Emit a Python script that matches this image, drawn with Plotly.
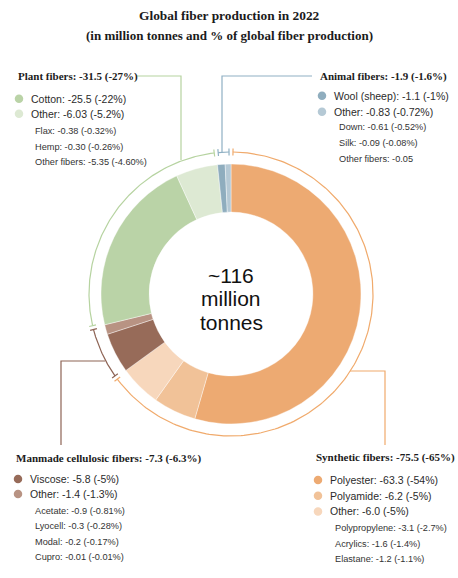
import numpy as np
import plotly.graph_objects as go

W, H = 458, 578

# ---------------- data ----------------
categories = ["Synthetic fibers", "Manmade cellulosic fibers", "Plant fibers", "Animal fibers"]
category_totals = ["-75.5", "-7.3", "-31.5", "-1.9"]
category_pcts = ["-65%", "-6.3%", "-27%", "-1.6%"]

slice_names = ["Polyester", "Polyamide", "Other", "Viscose", "Other", "Cotton", "Other",
               "Wool (sheep)", "Other"]
slice_values = [63.3, 6.2, 6.0, 5.8, 1.4, 25.5, 6.03, 1.1, 0.83]
slice_value_labels = ["-63.3", "-6.2", "-6.0", "-5.8", "-1.4", "-25.5", "-6.03", "-1.1", "-0.83"]
slice_pcts = ["-54%", "-5%", "-5%", "-5%", "-1.3%", "-22%", "-5.2%", "-1%", "-0.72%"]
slice_category = [0, 0, 0, 1, 1, 2, 2, 3, 3]

synthetic_sub = ["Polypropylene: -3.1 (-2.7%)", "Acrylics: -1.6 (-1.4%)", "Elastane: -1.2 (-1.1%)"]
cellulosic_sub = ["Acetate: -0.9 (-0.81%)", "Lyocell: -0.3 (-0.28%)", "Modal: -0.2 (-0.17%)",
                  "Cupro: -0.01 (-0.01%)"]
plant_sub = ["Flax: -0.38 (-0.32%)", "Hemp: -0.30 (-0.26%)", "Other fibers: -5.35 (-4.60%)"]
animal_sub = ["Down: -0.61 (-0.52%)", "Silk: -0.09 (-0.08%)", "Other fibers: -0.05"]
sub_items = [synthetic_sub, cellulosic_sub, plant_sub, animal_sub]

total_label = "~116"

# ---------------- styles ----------------
slice_colors = ["#EDAA72", "#F1C298", "#F7D7BC", "#976B59", "#B89383",
                "#BAD3A7", "#DDE9D3", "#8FADBE", "#B5C9D5"]
category_line_colors = ["#F0AA6C", "#8E6455", "#B6D3A0", "#8FB0C3"]

SERIF = "Liberation Serif"
SANS = "Liberation Sans"

cx, cy = 231, 294          # donut centre (pixels from top-left)
R_OUT = 130
HOLE = 0.63
R_ARC = 142


def Y(y):
    return H - y


fig = go.Figure()

# donut
fig.add_trace(go.Pie(
    values=slice_values,
    labels=[f"{n} ({categories[c]})" for n, c in zip(slice_names, slice_category)],
    marker=dict(colors=slice_colors, line=dict(color="white", width=0.4)),
    hole=HOLE, sort=False, direction="clockwise", rotation=0,
    textinfo="none", hoverinfo="label+value", showlegend=False,
    domain=dict(x=[(cx - R_OUT) / W, (cx + R_OUT) / W],
                y=[(Y(cy) - R_OUT) / H, (Y(cy) + R_OUT) / H]),
))

# outer category arcs computed from the data
total = sum(slice_values)
cum = np.cumsum([0] + slice_values)
gap = 0.8
for ci in range(len(categories)):
    idx = [i for i, c in enumerate(slice_category) if c == ci]
    a0 = cum[idx[0]] / total * 360 + gap
    a1 = cum[idx[-1] + 1] / total * 360 - gap
    th = np.radians(np.linspace(a0, a1, 200))
    fig.add_trace(go.Scatter(
        x=cx + R_ARC * np.sin(th), y=Y(cy) + R_ARC * np.cos(th),
        mode="lines", line=dict(color=category_line_colors[ci], width=1.2),
        hoverinfo="skip", showlegend=False))
    for a in (a0, a1):
        t = np.radians(a)
        fig.add_trace(go.Scatter(
            x=[cx + (R_ARC - 3.5) * np.sin(t), cx + (R_ARC + 3.5) * np.sin(t)],
            y=[Y(cy) + (R_ARC - 3.5) * np.cos(t), Y(cy) + (R_ARC + 3.5) * np.cos(t)],
            mode="lines", line=dict(color=category_line_colors[ci], width=1.2),
            hoverinfo="skip", showlegend=False))

# leader lines (layout decoration, pixel coords from top)
leaders = [
    [(350, 371), (385, 371), (385, 445)],   # synthetic
    [(105, 361), (61, 361), (61, 445)],     # cellulosic
    [(181, 160), (181, 76), (137, 76)],     # plant
    [(222, 152), (222, 76), (312, 76)],     # animal
]
for ci, pts in enumerate(leaders):
    fig.add_trace(go.Scatter(
        x=[p[0] for p in pts], y=[Y(p[1]) for p in pts], mode="lines",
        line=dict(color=category_line_colors[ci], width=1.2),
        hoverinfo="skip", showlegend=False))

# legend blocks
blocks = [
    dict(hx=314, hy=457, dx=318, tx=328, iy=480, istep=15.7, sx=333, sy=528, sstep=15.5),
    dict(hx=14, hy=458, dx=18, tx=28, iy=479, istep=15.0, sx=33, sy=510.7, sstep=15.4),
    dict(hx=16, hy=76, dx=19, tx=29, iy=98.7, istep=15.0, sx=33, sy=131, sstep=15.5),
    dict(hx=318, hy=76, dx=322, tx=332, iy=95.7, istep=16.0, sx=337, sy=126.7, sstep=16.0),
]

annotations = []
for ci, b in enumerate(blocks):
    annotations.append(dict(
        x=b["hx"], y=Y(b["hy"]), xref="x", yref="y", xanchor="left", yanchor="middle",
        showarrow=False,
        text=f"<b>{categories[ci]}: {category_totals[ci]} ({category_pcts[ci]})</b>",
        font=dict(family=SERIF, size=11, color="#1b1b1b")))
    idx = [i for i, c in enumerate(slice_category) if c == ci]
    for k, i in enumerate(idx):
        yy = b["iy"] + k * b["istep"]
        fig.add_trace(go.Scatter(
            x=[b["dx"]], y=[Y(yy)], mode="markers",
            marker=dict(size=8.5, color=slice_colors[i]),
            hoverinfo="skip", showlegend=False))
        annotations.append(dict(
            x=b["tx"], y=Y(yy), xref="x", yref="y", xanchor="left", yanchor="middle",
            showarrow=False,
            text=f"{slice_names[i]}: {slice_value_labels[i]} ({slice_pcts[i]})",
            font=dict(family=SANS, size=10.5, color="#2b2b2b")))
    for k, s in enumerate(sub_items[ci]):
        yy = b["sy"] + k * b["sstep"]
        annotations.append(dict(
            x=b["sx"], y=Y(yy), xref="x", yref="y", xanchor="left", yanchor="middle",
            showarrow=False, text=s,
            font=dict(family=SANS, size=9.2, color="#333333")))

# centre label
for txt, yy in [(total_label, 275), ("million", 298.5), ("tonnes", 322)]:
    annotations.append(dict(
        x=cx, y=Y(yy), xref="x", yref="y", xanchor="center", yanchor="middle",
        showarrow=False, text=txt, borderpad=0,
        font=dict(family=SANS, size=21, color="#111111")))

# title
annotations.append(dict(
    x=W / 2, y=Y(15), xref="x", yref="y", xanchor="center", yanchor="middle",
    showarrow=False, text="<b>Global fiber production in 2022</b>",
    font=dict(family=SERIF, size=13.4, color="#1b1b1b")))
annotations.append(dict(
    x=W / 2, y=Y(35), xref="x", yref="y", xanchor="center", yanchor="middle",
    showarrow=False, text="<b>(in million tonnes and % of global fiber production)</b>",
    font=dict(family=SERIF, size=13, color="#1b1b1b")))

fig.update_layout(
    width=W, height=H, margin=dict(l=0, r=0, t=0, b=0),
    paper_bgcolor="white", plot_bgcolor="rgba(0,0,0,0)",
    xaxis=dict(range=[0, W], visible=False, fixedrange=True),
    yaxis=dict(range=[0, H], visible=False, fixedrange=True),
    annotations=annotations, showlegend=False,
)

fig.write_html("out.html", config={"displayModeBar": False},
               post_script="document.body.style.margin='0px';document.body.style.overflow='hidden';")
